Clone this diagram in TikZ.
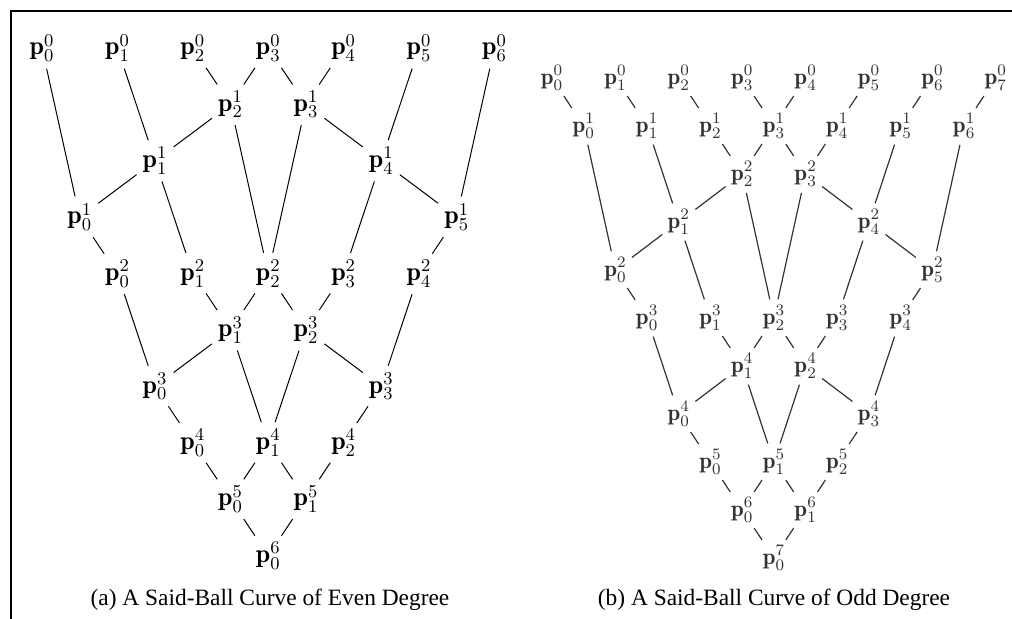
\documentclass[tikz,border=0pt]{standalone}
\usepackage{fontspec}
\newfontfamily\capfont{Liberation Serif}
\usepackage{amsmath}
\usetikzlibrary{positioning}

\begin{document}
\begin{tikzpicture}[x=0.5pt,y=-0.5pt,
    lbla/.style={inner sep=0.5pt,font=\fontsize{13}{15}\selectfont},
    lblb/.style={inner sep=0.5pt,font=\fontsize{11.5}{13}\selectfont,text=black!80},
    linka/.style={line width=0.5pt,shorten <=3pt,shorten >=3pt},
    linkb/.style={line width=0.6pt,black!80,shorten <=2.5pt,shorten >=2.5pt},
    capt/.style={font=\capfont\fontsize{11.7}{14}\selectfont}]
    \useasboundingbox (0,0) rectangle (1012,619);
    \draw[line width=1pt] (1012,11) -- (11,11) -- (11,619);

    % (a) even degree: level/index/column/row
    \foreach \k/\i/\c/\r in {0/0/0/0, 0/1/2/0, 0/2/4/0, 0/3/6/0, 0/4/8/0, 0/5/10/0, 0/6/12/0,
        1/0/1/3, 1/1/3/2, 1/2/5/1, 1/3/7/1, 1/4/9/2, 1/5/11/3,
        2/0/2/4, 2/1/4/4, 2/2/6/4, 2/3/8/4, 2/4/10/4,
        3/0/3/6, 3/1/5/5, 3/2/7/5, 3/3/9/6,
        4/0/4/7, 4/1/6/7, 4/2/8/7,
        5/0/5/8, 5/1/7/8,
        6/0/6/9}
      \node[lbla] (a-\k-\i) at ({42+37.7*\c},{48+56.4*\r}) {$\mathbf{p}_{\i}^{\k}$};
    \foreach \u/\v in {0-0/1-0, 0-1/1-1, 0-2/1-2, 0-3/1-2, 0-3/1-3, 0-4/1-3, 0-5/1-4, 0-6/1-5,
        1-2/1-1, 1-1/1-0, 1-3/1-4, 1-4/1-5,
        1-0/2-0, 1-1/2-1, 1-2/2-2, 1-3/2-2, 1-4/2-3, 1-5/2-4,
        2-0/3-0, 2-1/3-1, 2-2/3-1, 2-2/3-2, 2-3/3-2, 2-4/3-3,
        3-1/3-0, 3-2/3-3,
        3-0/4-0, 3-1/4-1, 3-2/4-1, 3-3/4-2,
        4-0/5-0, 4-1/5-0, 4-1/5-1, 4-2/5-1,
        5-0/6-0, 5-1/6-0}
      \draw[linka] (a-\u) -- (a-\v);
    \node[capt] (capa) at (270,600) {(a) A Said-Ball Curve of Even Degree};

    % (b) odd degree
    \foreach \k/\i/\c/\r in {0/0/0/0, 0/1/2/0, 0/2/4/0, 0/3/6/0, 0/4/8/0, 0/5/10/0, 0/6/12/0, 0/7/14/0,
        1/0/1/1, 1/1/3/1, 1/2/5/1, 1/3/7/1, 1/4/9/1, 1/5/11/1, 1/6/13/1,
        2/0/2/4, 2/1/4/3, 2/2/6/2, 2/3/8/2, 2/4/10/3, 2/5/12/4,
        3/0/3/5, 3/1/5/5, 3/2/7/5, 3/3/9/5, 3/4/11/5,
        4/0/4/7, 4/1/6/6, 4/2/8/6, 4/3/10/7,
        5/0/5/8, 5/1/7/8, 5/2/9/8,
        6/0/6/9, 6/1/8/9,
        7/0/7/10}
      \node[lblb] (b-\k-\i) at ({552+31.7*\c},{78+48*\r}) {$\mathbf{p}_{\i}^{\k}$};
    \foreach \u/\v in {0-0/1-0, 0-1/1-1, 0-2/1-2, 0-3/1-3, 0-4/1-3, 0-5/1-4, 0-6/1-5, 0-7/1-6,
        1-2/2-2, 1-3/2-2, 1-3/2-3, 1-4/2-3,
        2-2/2-1, 2-1/2-0, 2-3/2-4, 2-4/2-5,
        1-0/2-0, 1-1/2-1, 1-5/2-4, 1-6/2-5,
        2-0/3-0, 2-1/3-1, 2-2/3-2, 2-3/3-2, 2-4/3-3, 2-5/3-4,
        3-1/4-1, 3-2/4-1, 3-2/4-2, 3-3/4-2,
        4-1/4-0, 4-2/4-3, 3-0/4-0, 3-4/4-3,
        4-0/5-0, 4-1/5-1, 4-2/5-1, 4-3/5-2,
        5-0/6-0, 5-1/6-0, 5-1/6-1, 5-2/6-1,
        6-0/7-0, 6-1/7-0}
      \draw[linkb] (b-\u) -- (b-\v);
    \node[capt] (capb) at (774,600) {(b) A Said-Ball Curve of Odd Degree};
  \end{tikzpicture}
\end{document}
